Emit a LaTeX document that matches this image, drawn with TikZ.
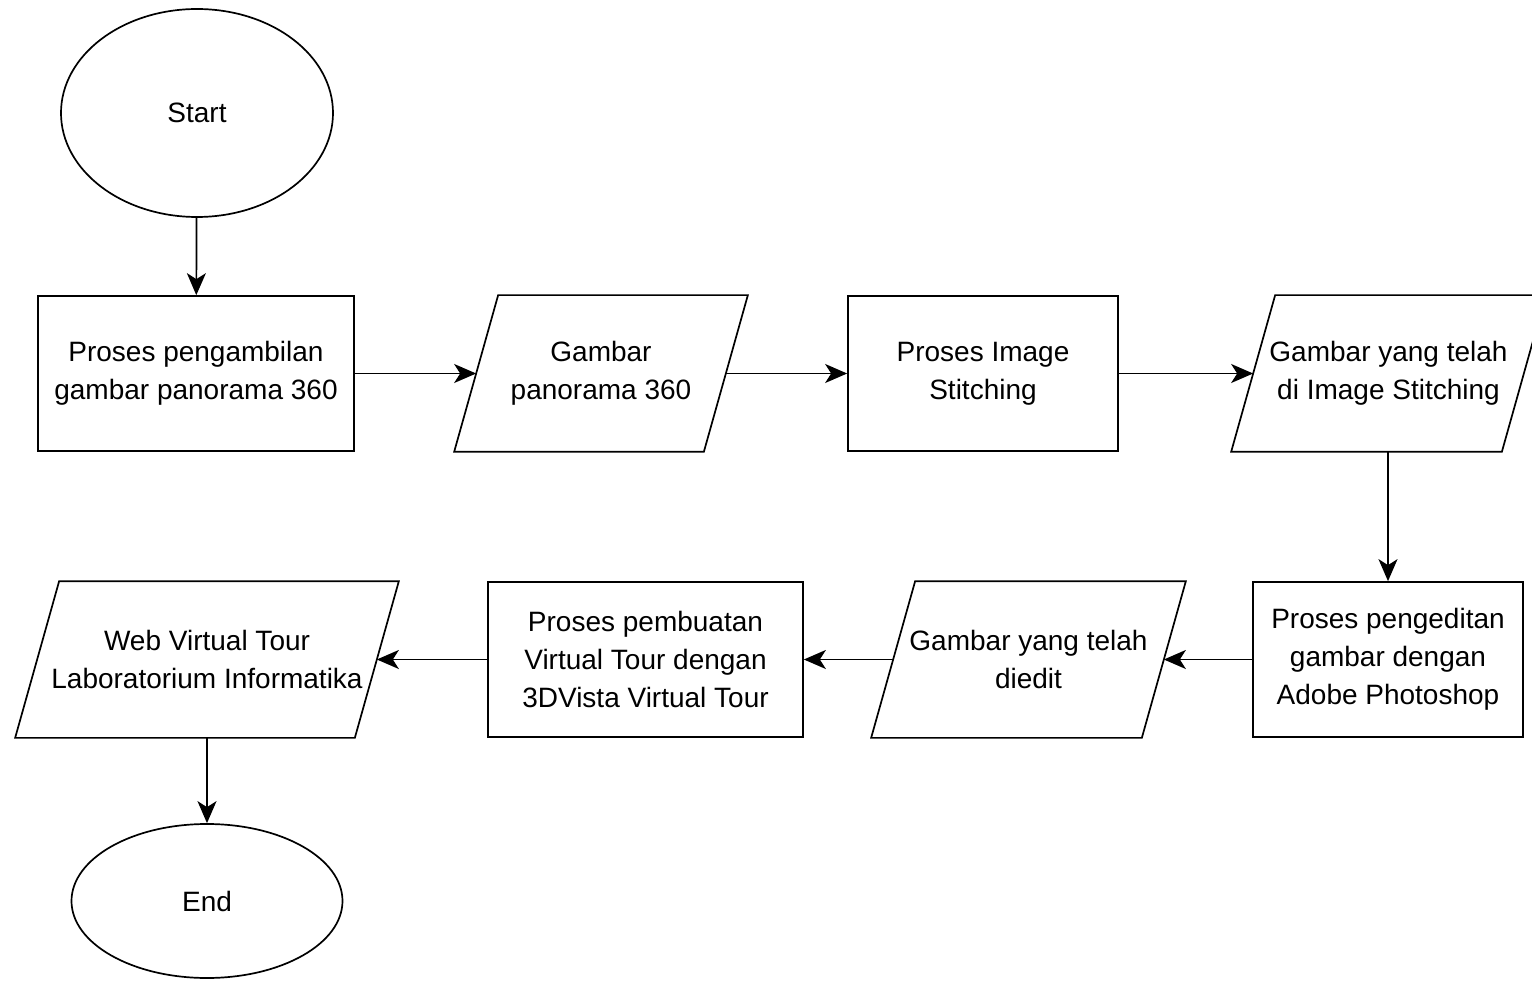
\documentclass[tikz,border=0pt]{standalone}
\usepackage{fontspec}
\setmainfont{Liberation Sans}
\usetikzlibrary{shapes.geometric,arrows.meta}
\tikzset{
  lw/.style={line width=1.7pt},
  base/.style={lw, align=center, inner sep=2pt,
    font=\fontsize{28}{38}\selectfont},
  term/.style={base, draw=black, ellipse},
  proc/.style={base, draw=black, rectangle, minimum height=155pt},
  io/.style={base, draw=none, rectangle, minimum height=155pt},
  conn/.style={lw, -{Stealth[length=22pt,width=19pt,inset=6pt]}},
}
\newcommand{\slantbox}[1]{%
  \draw[lw] ([xshift=44pt]#1.north west) -- (#1.north east)
    -- ([xshift=-44pt]#1.south east) -- (#1.south west) -- cycle;}
\begin{document}
\begin{tikzpicture}[x=1pt,y=-1pt]
\useasboundingbox (0,0) rectangle (1532,981);
\clip (0,0) rectangle (1532,981);
\node[term, minimum width=272pt, minimum height=208pt] (start) at (197,113) {Start};
\node[proc, minimum width=316pt] (b1) at (196,373.5) {Proses pengambilan\\gambar panorama 360};
\node[io, minimum width=292pt] (p1) at (601,373.5) {Gambar\\panorama 360};
\node[proc, minimum width=270pt] (b2) at (983,373.5) {Proses Image\\Stitching};
\node[io, minimum width=313pt] (p2) at (1388.5,373.5) {Gambar yang telah\\di Image Stitching};
\node[proc, minimum width=270pt] (b3) at (1388,659.5) {Proses pengeditan\\gambar dengan\\Adobe Photoshop};
\node[io, minimum width=313pt] (p3) at (1028.5,659.5) {Gambar yang telah\\diedit};
\node[proc, minimum width=315pt] (b4) at (645.5,659.5) {Proses pembuatan\\Virtual Tour dengan\\3DVista Virtual Tour};
\node[io, minimum width=382pt] (p4) at (207,659.5) {Web Virtual Tour\\Laboratorium Informatika};
\node[term, minimum width=271pt, minimum height=154pt] (end) at (207,901) {End};
\slantbox{p1}
\slantbox{p2}
\slantbox{p3}
\slantbox{p4}
\draw[conn] (start) -- (b1);
\draw[conn] (b1) -- ([xshift=22pt]p1.west);
\draw[conn] ([xshift=-22pt]p1.east) -- (b2);
\draw[conn] (b2) -- ([xshift=22pt]p2.west);
\draw[conn] (p2.south -| b3.north) -- (b3.north);
\draw[conn] (b3) -- ([xshift=-22pt]p3.east);
\draw[conn] ([xshift=22pt]p3.west) -- (b4);
\draw[conn] (b4) -- ([xshift=-22pt]p4.east);
\draw[conn] (p4.south) -- (end);
\end{tikzpicture}
\end{document}
